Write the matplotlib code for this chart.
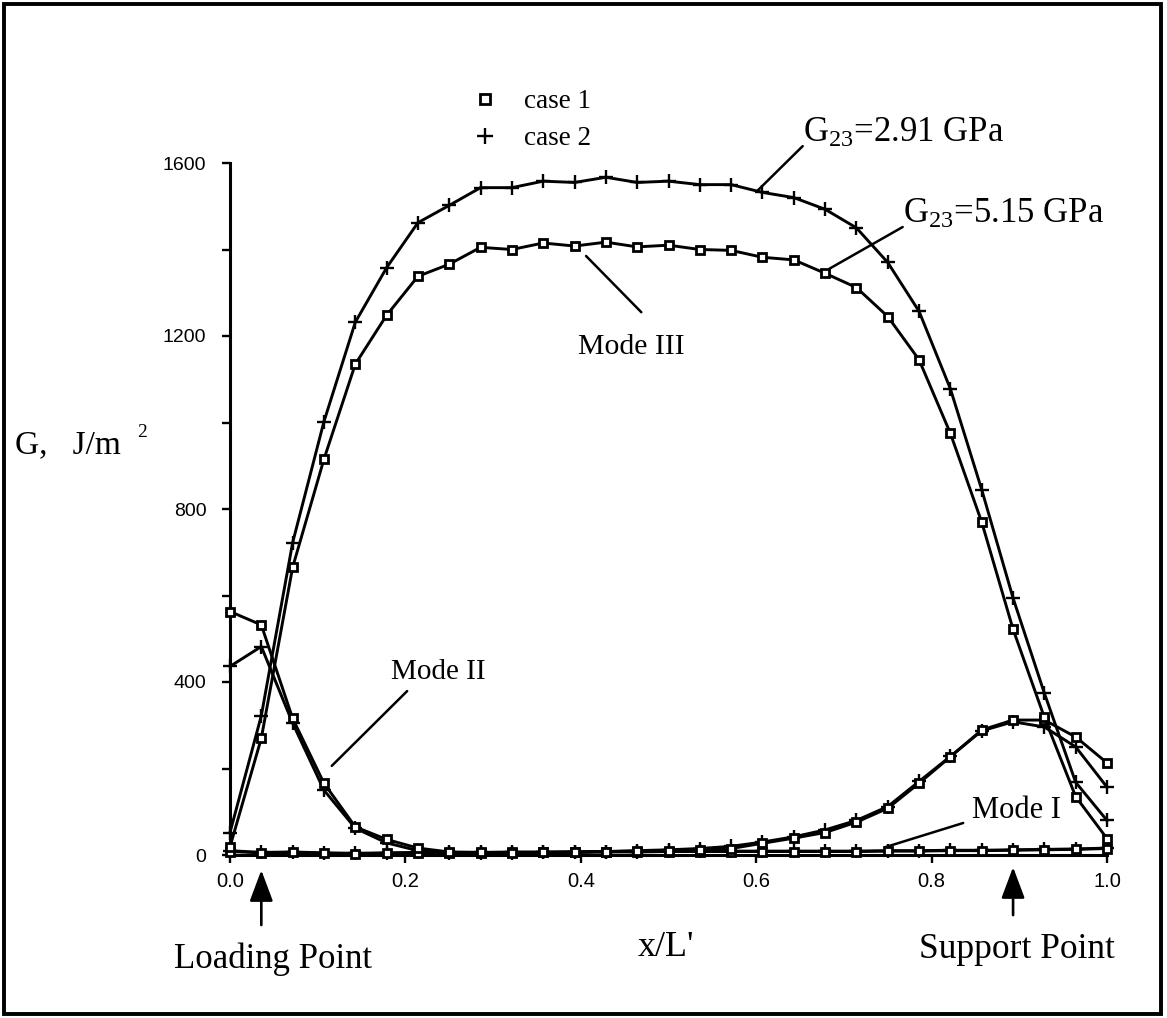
import matplotlib
matplotlib.use("Agg")
import matplotlib.pyplot as plt
from matplotlib.lines import Line2D
from matplotlib.patches import Rectangle

# ---------------- data ----------------
x_pos = [0.0, 0.0357, 0.0714, 0.1071, 0.1429, 0.1786, 0.2143, 0.25, 0.2857, 0.3214,
         0.3571, 0.3929, 0.4286, 0.4643, 0.5, 0.5357, 0.5714, 0.6071, 0.6429, 0.6786,
         0.7143, 0.75, 0.7857, 0.8214, 0.8571, 0.8929, 0.9286, 0.9643, 1.0]

mode3_case1 = [19, 270, 665, 915, 1135, 1248, 1338, 1366, 1405, 1400, 1415, 1408, 1417, 1406,
               1410, 1400, 1398, 1382, 1376, 1345, 1312, 1245, 1145, 975, 770, 522, 318, 135, 38]
mode3_case2 = [52, 322, 722, 1002, 1232, 1358, 1462, 1502, 1543, 1543, 1558, 1555, 1567, 1555,
               1558, 1550, 1550, 1532, 1520, 1493, 1450, 1370, 1257, 1078, 845, 594, 374, 168, 80]
mode2_case1 = [563, 532, 316, 166, 65, 36, 16, 7, 6, 5, 6, 7, 8, 9,
               10, 12, 15, 27, 39, 52, 76, 108, 166, 227, 289, 312, 312, 273, 213]
mode2_case2 = [436, 482, 305, 150, 62, 28, 10, 5, 5, 5, 6, 7, 8, 10,
               12, 15, 20, 30, 42, 58, 80, 112, 170, 228, 287, 308, 296, 250, 157]
mode1_case1 = [8, 5, 6, 4, 3, 4, 5, 5, 5, 6, 6, 6, 7, 7,
               8, 8, 8, 8, 8, 8, 8, 9, 9, 10, 10, 11, 12, 13, 15]
mode1_case2 = [10, 6, 7, 5, 4, 5, 6, 6, 6, 7, 7, 7, 8, 8,
               9, 9, 9, 9, 9, 9, 9, 10, 10, 11, 11, 12, 13, 14, 16]

x_ticks = [0.0, 0.2, 0.4, 0.6, 0.8, 1.0]
x_tick_labels = ["0.0", "0.2", "0.4", "0.6", "0.8", "1.0"]
y_ticks = [0, 400, 800, 1200, 1600]
y_tick_labels = ["0", "400", "800", "1200", "1600"]
y_minor_ticks = [200, 600, 1000, 1400]
legend_labels = ["case 1", "case 2"]

# ---------------- figure ----------------
W, H = 1167, 1018
plt.rcParams["mathtext.fontset"] = "custom"
plt.rcParams["mathtext.rm"] = "Liberation Serif"
plt.rcParams["mathtext.it"] = "Liberation Serif:italic"
SERIF = "Liberation Serif"
SANS = "Liberation Sans"

fig = plt.figure(figsize=(W / 100, H / 100), dpi=100)
fig.patch.set_facecolor("white")
ax = fig.add_axes([230 / W, 1 - 855 / H, 877 / W, 692 / H])

lw = 2.1
c2 = dict(color="black", lw=lw, marker="+", ms=10, mew=1.7, clip_on=False, zorder=3)
c1 = dict(color="black", lw=lw, marker="s", ms=6, mfc="white", mec="black", mew=2.0,
          clip_on=False, zorder=4)

ax.plot(x_pos, mode1_case2, **c2)
ax.plot(x_pos, mode1_case1, **c1)
ax.plot(x_pos, mode2_case2, **c2)
ax.plot(x_pos, mode2_case1, **c1)
ax.plot(x_pos, mode3_case2, **c2)
ax.plot(x_pos, mode3_case1, **c1)

ax.set_xlim(0, 1.0)
ax.set_ylim(0, 1600)
for s in ["top", "right"]:
    ax.spines[s].set_visible(False)
for s in ["left", "bottom"]:
    ax.spines[s].set_linewidth(2.2)

ax.set_xticks(x_ticks)
ax.set_xticklabels(x_tick_labels, fontfamily=SANS, fontsize=14.5)
ax.set_yticks(y_ticks)
ax.set_yticklabels(y_tick_labels, fontfamily=SANS, fontsize=14)
ax.set_yticks(y_minor_ticks, minor=True)
ax.tick_params(axis="x", which="major", direction="out", length=6, width=1.7, pad=6)
ax.tick_params(axis="y", which="both", direction="out", length=6, width=1.7, pad=11)

# legend
h1 = Line2D([], [], ls="none", marker="s", ms=6.5, mfc="white", mec="black", mew=2.0)
h2 = Line2D([], [], ls="none", marker="+", ms=11, mew=1.7, color="black")
ax.legend([h1, h2], legend_labels, loc="upper left",
          bbox_to_anchor=(474 / W, 1 - 89 / H), bbox_transform=fig.transFigure,
          frameon=False, borderpad=0, borderaxespad=0, handlelength=0.8,
          handletextpad=1.05, labelspacing=0.45,
          prop=dict(family=SERIF, size=19.5))

# annotations with leader lines
txt = dict(fontfamily=SERIF, color="black")
line = dict(arrowstyle="-", lw=1.8, color="black", shrinkA=0, shrinkB=0)

ax.text(0.653, 1669, r"G$_{23}$=2.91 GPa", ha="left", va="center", fontsize=25, **txt)
ax.annotate("", xy=(0.602, 1537), xytext=(0.653, 1639), arrowprops=line, annotation_clip=False)

ax.text(0.767, 1482, r"G$_{23}$=5.15 GPa", ha="left", va="center", fontsize=25, **txt)
ax.annotate("", xy=(0.683, 1355), xytext=(0.767, 1452), arrowprops=line, annotation_clip=False)

ax.text(0.458, 1175, "Mode III", ha="center", va="center", fontsize=21.5, **txt)
ax.annotate("", xy=(0.469, 1255), xytext=(0.406, 1385), arrowprops=line, annotation_clip=False)

ax.text(0.237, 423, "Mode II", ha="center", va="center", fontsize=21, **txt)
ax.annotate("", xy=(0.116, 206), xytext=(0.202, 379), arrowprops=line, annotation_clip=False)

ax.text(0.897, 102, "Mode I", ha="center", va="center", fontsize=22, **txt)
ax.annotate("", xy=(0.747, 18), xytext=(0.836, 74), arrowprops=line, annotation_clip=False)

# point arrows below the axis
arr = dict(arrowstyle="-|>,head_length=1.2,head_width=0.45", lw=1.9, color="black",
           mutation_scale=16, shrinkA=0, shrinkB=0)
ax.annotate("", xy=(0.0357, -35), xytext=(0.0357, -162), arrowprops=arr, annotation_clip=False)
ax.annotate("", xy=(0.8929, -28), xytext=(0.8929, -139), arrowprops=arr, annotation_clip=False)

# figure-level labels
fig.text(15 / W, 1 - 453 / H, "G,   J/m", ha="left", va="baseline",
         fontfamily=SERIF, fontsize=24)
fig.text(137 / W, 1 - 437 / H, "2", ha="left", va="baseline",
         fontfamily=SERIF, fontsize=14)
fig.text(666 / W, 1 - 947 / H, "x/L'", ha="center", va="center",
         fontfamily=SERIF, fontsize=26)
fig.text(273 / W, 1 - 959 / H, "Loading Point", ha="center", va="center",
         fontfamily=SERIF, fontsize=25)
fig.text(1017 / W, 1 - 949 / H, "Support Point", ha="center", va="center",
         fontfamily=SERIF, fontsize=25.5)

# outer border
fig.patches.append(Rectangle((4 / W, 4 / H), (1161 - 4) / W, (1014 - 4) / H,
                             transform=fig.transFigure, fill=False, lw=2.8,
                             ec="black", zorder=10))

fig.savefig("out.png", dpi=100, facecolor="white")
